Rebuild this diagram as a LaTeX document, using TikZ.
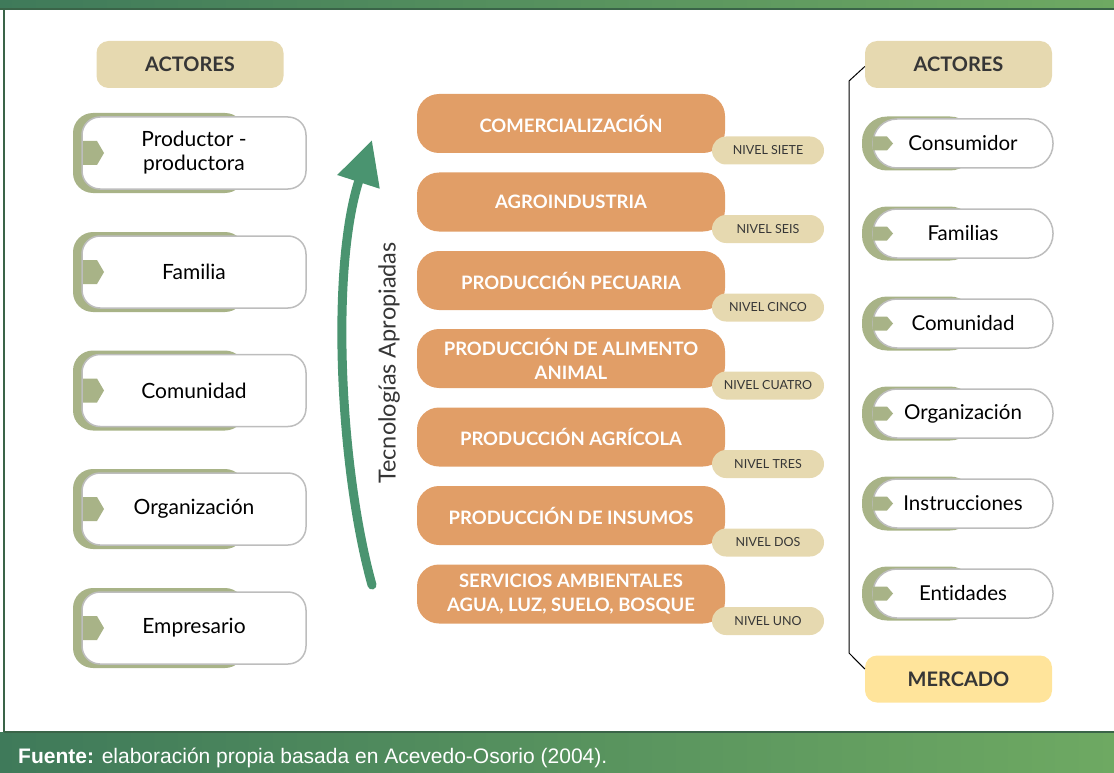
\documentclass[tikz,border=0pt]{standalone}
\usepackage{fontspec}
\setmainfont{Lato}[Ligatures={NoCommon,NoRequired,NoContextual}]
\newfontfamily\footfont{Liberation Sans}
\usetikzlibrary{arrows.meta,calc}
\definecolor{barL}{HTML}{3F7A5A}
\definecolor{barR}{HTML}{6EA962}
\definecolor{barLine}{HTML}{3A6448}
\definecolor{orangeP}{HTML}{E19E67}
\definecolor{tanP}{HTML}{E6D9B0}
\definecolor{oliveP}{HTML}{A8B387}
\definecolor{yellowP}{HTML}{FFE49B}
\definecolor{greenA}{HTML}{4A9470}
\definecolor{darkT}{HTML}{363636}
\definecolor{grayB}{HTML}{BDBDBD}
\newcommand\actorL[3]{%
  \fill[oliveP,rounded corners=20pt] (73,#2-40) rectangle (245,#2+40);
  \node[whiteL] (#1) at (194,#2) {#3};
  \fill[oliveP] (83,#2-12) -- (97,#2-12) -- (104,#2) -- (97,#2+12) -- (83,#2+12) -- cycle;
}
\newcommand\actorR[3]{%
  \fill[oliveP,rounded corners=25pt] (862,#2-27) rectangle (975,#2+27);
  \node[whiteR] (#1) at (963,#2) {#3};
  \fill[oliveP] (873,#2-7) -- (887,#2-7) -- (893,#2) -- (887,#2+7) -- (873,#2+7) -- cycle;
}
\newcommand\level[4]{%
  \node[pill] (#1) at (571,#2) {#3};
  \node[niveltag] (#1n) at (768,#2+27) {#4};
}
\begin{document}
\begin{tikzpicture}[x=1pt,y=-1pt,
  whiteL/.style={fill=white,draw=grayB,line width=1.5pt,rounded corners=18pt,
    minimum width=224pt,minimum height=72pt,align=center,text=black,
    font=\fontsize{21}{24}\selectfont},
  whiteR/.style={fill=white,draw=grayB,line width=1.5pt,rounded corners=24pt,
    minimum width=180pt,minimum height=49pt,text=black,
    font=\fontsize{20.5}{22}\selectfont},
  header/.style={rounded corners=12pt,minimum width=187pt,minimum height=47pt,
    text=darkT,font=\bfseries\fontsize{20}{24}\selectfont},
  pill/.style={fill=orangeP,rounded corners=22pt,minimum width=308pt,minimum height=59pt,
    text=white,align=center,font=\bfseries\fontsize{18.5}{24}\selectfont},
  niveltag/.style={fill=tanP,rounded corners=14pt,minimum width=112pt,minimum height=28pt,
    text=darkT,font=\fontsize{12.5}{14}\selectfont},
]
\useasboundingbox (0,0) rectangle (1114,773);
% frame
\shade[left color=barL,right color=barR] (0,0) rectangle (1114,9);
\draw[barLine,line width=1.5pt] (0,9) -- (1114,9);
\draw[barLine,line width=1.5pt] (4,9) -- (4,732);
\shade[left color=barL,right color=barR] (0,732) rectangle (1114,773);
\draw[barLine,line width=1.5pt] (4,732) -- (1114,732);
\node[anchor=base west,text=white,inner sep=0,font=\footfont\fontsize{21}{24}\selectfont] (fuente) at (18,763)
  {\textbf{Fuente:} elaboración propia basada en Acevedo-Osorio (2004).};
% left column
\node[header,fill=tanP] (actL) at (190,64.5) {ACTORES};
\actorL{a1}{153}{Productor -\\productora}
\actorL{a2}{272}{Familia}
\actorL{a3}{390.5}{Comunidad}
\actorL{a4}{509}{Organización}
\actorL{a5}{628}{Empresario}
% middle
\level{l7}{123.5}{COMERCIALIZACIÓN}{NIVEL SIETE}
\level{l6}{202}{AGROINDUSTRIA}{NIVEL SEIS}
\level{l5}{280.5}{PRODUCCIÓN PECUARIA}{NIVEL CINCO}
\level{l4}{358.5}{PRODUCCIÓN DE ALIMENTO\\ANIMAL}{NIVEL CUATRO}
\level{l3}{437}{PRODUCCIÓN AGRÍCOLA}{NIVEL TRES}
\level{l2}{515.5}{PRODUCCIÓN DE INSUMOS}{NIVEL DOS}
\level{l1}{594}{SERVICIOS AMBIENTALES\\AGUA, LUZ, SUELO, BOSQUE}{NIVEL UNO}
% arrow
\coordinate (tail) at (372,585);
\coordinate (tip) at (372,140);
\draw[greenA,line width=9pt,line cap=round,-{Triangle[length=44pt,width=42pt]}]
  (tail) .. controls (340,470) and (330,270) .. (tip);
\node[rotate=90,text=darkT,font=\fontsize{23.5}{26}\selectfont] (tech) at (389,363) {Tecnologías Apropiadas};
% right column
\node[header,fill=tanP] (actR) at (958.5,64.5) {ACTORES};
\actorR{b1}{143.5}{Consumidor}
\actorR{b2}{233.5}{Familias}
\actorR{b3}{323.5}{Comunidad}
\actorR{b4}{413.5}{Organización}
\actorR{b5}{503.5}{Instrucciones}
\actorR{b6}{593.5}{Entidades}
\node[header,fill=yellowP] (merc) at (958.5,679) {MERCADO};
\draw[black,line width=1pt] ($(actR.west)+(0,2)$) -- (849,81) -- (849,653) -- ($(merc.west)+(0,-10)$);
\end{tikzpicture}
\end{document}
